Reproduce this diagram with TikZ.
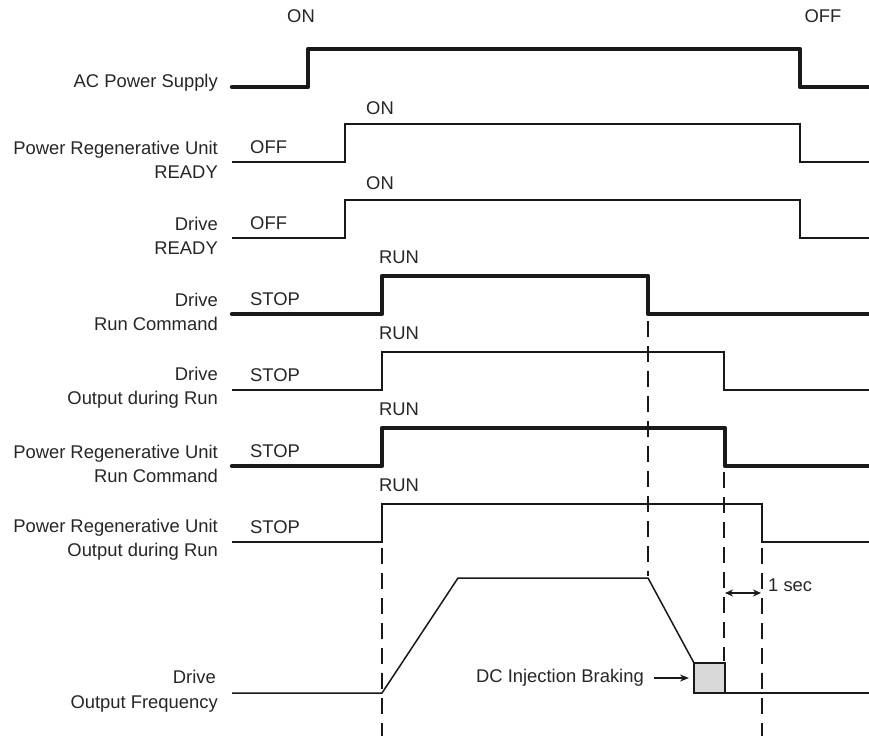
\documentclass[tikz,border=0pt]{standalone}
\usepackage{fontspec}
\setmainfont{Liberation Sans}
\usetikzlibrary{arrows.meta}
\begin{document}
\begin{tikzpicture}[x=1pt,y=-1pt,
  txt/.style={inner sep=0pt,text=black!85,font=\fontsize{18.4}{24}\selectfont},
  lbl/.style={txt,anchor=east,align=right},
  sigthick/.style={line width=4.5pt,line cap=round,line join=round,black!90},
  sigthin/.style={line width=1.5pt,black!90},
  guide/.style={line width=1.8pt,dash pattern=on 16pt off 9pt,black!90},
  tip/.style={-{Stealth[length=9pt,width=7pt]},line width=1.5pt,black!90},
  dtip/.style={{Stealth[length=8pt,width=7pt]}-{Stealth[length=8pt,width=7pt]},line width=1.5pt,black!90}]
\useasboundingbox (0,0) rectangle (869,736);

% --- labels ---
\node[lbl] (lAC) at (218,83) {AC Power Supply};
\node[lbl] (lPR) at (218,160) {Power Regenerative Unit\\READY};
\node[lbl] (lDR) at (218,236) {Drive\\READY};
\node[lbl] (lDC) at (218,312) {Drive\\Run Command};
\node[lbl] (lDO) at (218,388) {Drive\\Output during Run};
\node[lbl] (lPC) at (218,464) {Power Regenerative Unit\\Run Command};
\node[lbl] (lPO) at (218,540) {Power Regenerative Unit\\Output during Run};
\node[lbl] (lF1) at (216,677) {Drive};
\node[lbl] (lF2) at (218,704) {Output Frequency};

% --- state texts ---
\node[txt] (sAC1) at (301,16) {ON};
\node[txt] (sAC2) at (823,16) {OFF};
\node[txt,anchor=west] (sPR1) at (250,147) {OFF};
\node[txt] (sPR2) at (380,108) {ON};
\node[txt,anchor=west] (sDR1) at (250,223) {OFF};
\node[txt] (sDR2) at (380,183) {ON};
\node[txt,anchor=west] (sDC1) at (250,299) {STOP};
\node[txt] (sDC2) at (399,257) {RUN};
\node[txt,anchor=west] (sDO1) at (250,375) {STOP};
\node[txt] (sDO2) at (399,333) {RUN};
\node[txt,anchor=west] (sPC1) at (250,451) {STOP};
\node[txt] (sPC2) at (399,409) {RUN};
\node[txt,anchor=west] (sPO1) at (250,527) {STOP};
\node[txt] (sPO2) at (399,485) {RUN};

% --- signals ---
\draw[sigthick] (232,87) -- (308,87) -- (308,49) -- (800,49) -- (800,87) -- (869,87);
\draw[sigthin] (232,162) -- (345,162) -- (345,124) -- (800,124) -- (800,162) -- (869,162);
\draw[sigthin] (232,238) -- (345,238) -- (345,200) -- (800,200) -- (800,238) -- (869,238);
\draw[sigthick] (232,314) -- (382,314) -- (382,276) -- (648,276) -- (648,314) -- (869,314);
\draw[sigthin] (232,390) -- (382,390) -- (382,352) -- (724,352) -- (724,390) -- (869,390);
\draw[sigthick] (232,466) -- (382,466) -- (382,428) -- (725,428) -- (725,466) -- (869,466);
\draw[sigthin] (232,542) -- (382,542) -- (382,504) -- (762,504) -- (762,542) -- (869,542);

% --- output frequency ---
\coordinate (f0) at (232,693);
\coordinate (f1) at (382,693);
\coordinate (f2) at (458,578);
\coordinate (f3) at (648,578);
\coordinate (f4) at (694,663);
\coordinate (f5) at (725,693);
\coordinate (f6) at (869,693);
\draw[sigthin] (f0) -- (f1) -- (f2) -- (f3) -- (f4);
\draw[sigthin,fill=gray!30] (f4) rectangle (f5);
\draw[sigthin] (f5) -- (f6);

% --- guide lines ---
\draw[guide] (382,548) -- (382,736);
\draw[guide] (648,321) -- (648,576);
\draw[guide] (724,472) -- (724,661);
\draw[guide] (762,548) -- (762,736);

% --- annotations ---
\node[txt,anchor=east] (dcib) at (644,678) {DC Injection Braking};
\coordinate (dcA) at (654,678);
\coordinate (dcB) at (689,678);
\draw[tip] (dcA) -- (dcB);
\coordinate (sA) at (725,593);
\coordinate (sB) at (761,593);
\draw[dtip] (sA) -- (sB);
\node[txt,anchor=west] (onesec) at (768,585) {1 sec};
\end{tikzpicture}
\end{document}
